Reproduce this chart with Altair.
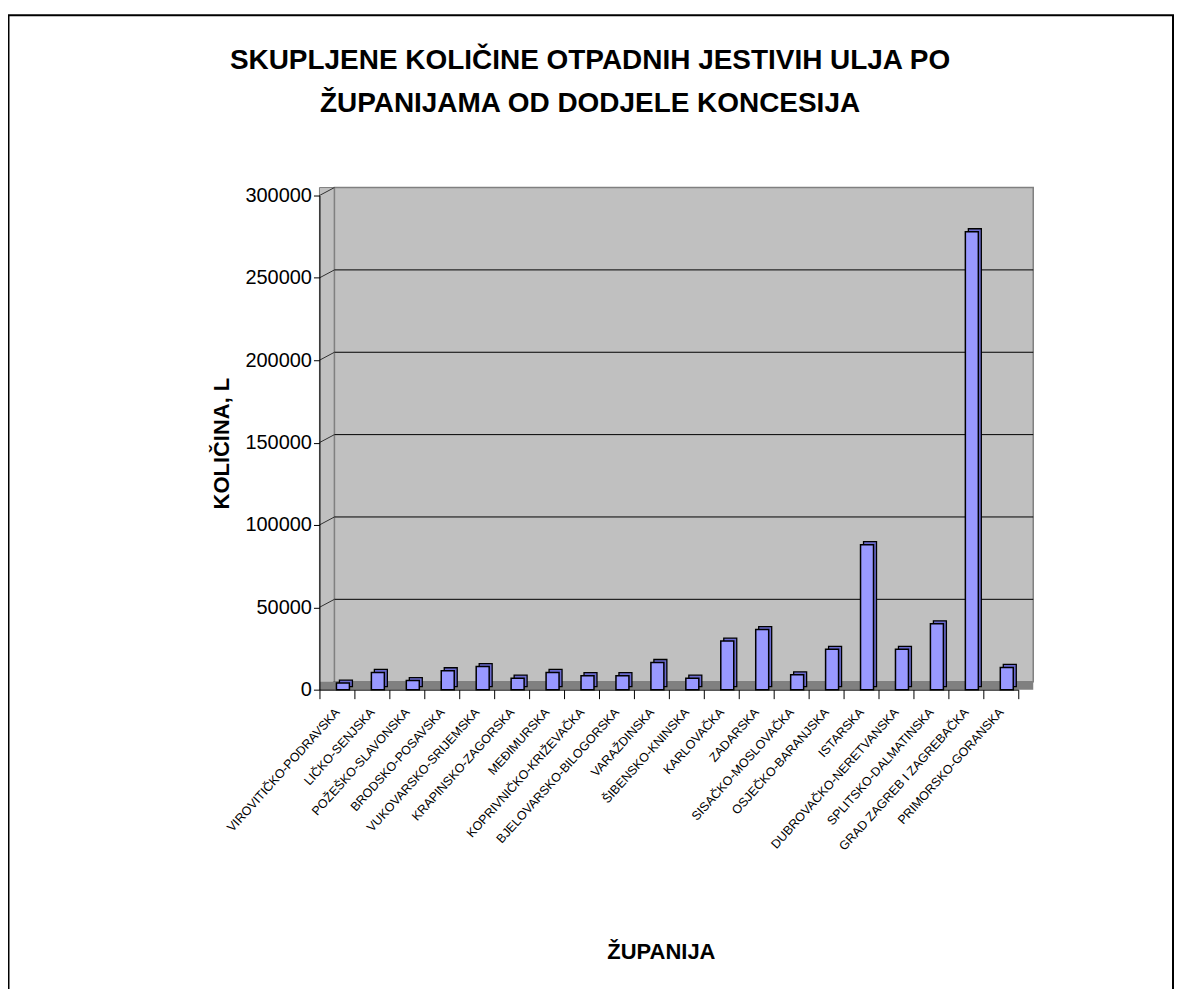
import altair as alt
import pandas as pd

counties = [
    "VIROVITIČKO-PODRAVSKA", "LIČKO-SENJSKA", "POŽEŠKO-SLAVONSKA", "BRODSKO-POSAVSKA",
    "VUKOVARSKO-SRIJEMSKA", "KRAPINSKO-ZAGORSKA", "MEĐIMURSKA", "KOPRIVNIČKO-KRIŽEVAČKA",
    "BJELOVARSKO-BILOGORSKA", "VARAŽDINSKA", "ŠIBENSKO-KNINSKA", "KARLOVAČKA", "ZADARSKA",
    "SISAČKO-MOSLOVAČKA", "OSJEČKO-BARANJSKA", "ISTARSKA", "DUBROVAČKO-NERETVANSKA",
    "SPLITSKO-DALMATINSKA", "GRAD ZAGREB I ZAGREBAČKA", "PRIMORSKO-GORANSKA",
]
values = [4000, 10500, 5500, 11500, 14000, 7000, 10500, 8500, 8500, 16500,
          7000, 29500, 36500, 9000, 24500, 88000, 24500, 40000, 278000, 13500]
y_ticks = [0, 50000, 100000, 150000, 200000, 250000, 300000]
grid_ticks = [50000, 100000, 150000, 200000, 250000]

title_lines = ["SKUPLJENE KOLIČINE OTPADNIH JESTIVIH ULJA PO", "ŽUPANIJAMA OD DODJELE KONCESIJA"]
x_title = "ŽUPANIJA"
y_title = "KOLIČINA, L"

FONT = "Liberation Sans"
W, H = 700, 495
DX, DY = 15, 8

df = pd.DataFrame({"county": counties, "value": values})
tick_df = pd.DataFrame({"value": y_ticks})
grid_df = pd.DataFrame({"value": grid_ticks})
one = alt.Data(values=[{"k": 1}])

yscale = alt.Scale(domain=[0, 300000], nice=False, zero=True)
xscale = alt.Scale(domain=counties, paddingInner=0, paddingOuter=0)

x_axis = alt.Axis(title=x_title, labelAngle=-48, labelAlign="right", labelBaseline="middle",
                  labelFontSize=12.5, labelFont=FONT, labelColor="black", labelLimit=400,
                  labelOverlap=False, labelPadding=11, tickBand="extent", tickSize=9,
                  tickColor="black", domainColor="black", titleX=342, titleY=262,
                  titleFontSize=22, titleFont=FONT, titleFontWeight="bold",
                  titleBaseline="middle", titleColor="black", zindex=1)
y_axis = alt.Axis(title=y_title, values=y_ticks, format="d", grid=False,
                  labelFontSize=20, labelFont=FONT, labelColor="black", labelPadding=2,
                  tickSize=6, tickColor="black", domainColor="black",
                  titleX=-98, titleY=248, titleAngle=270, titleBaseline="middle",
                  titleFontSize=22, titleFont=FONT, titleFontWeight="bold",
                  titleColor="black", zindex=1)

def xenc():
    return alt.X("county:N", sort=counties, scale=xscale, axis=x_axis)

def yenc():
    return alt.Y("value:Q", scale=yscale, axis=y_axis)

border = alt.Chart(one).mark_rect(fill="white", stroke="black", strokeWidth=2).encode(
    x=alt.value(-311.5), x2=alt.value(855), y=alt.value(-180.5), y2=alt.value(H + 400)
)
left_wall = alt.Chart(one).mark_rect(fill="#C0C0C0", stroke="#808080", strokeWidth=1).encode(
    x=alt.value(0), x2=alt.value(DX), y=alt.value(-DY), y2=alt.value(H)
)
back_wall = alt.Chart(one).mark_rect(fill="#C0C0C0", stroke="#808080", strokeWidth=1.5).encode(
    x=alt.value(DX), x2=alt.value(W + DX), y=alt.value(-DY), y2=alt.value(H - DY)
)
grid = alt.Chart(grid_df).mark_rule(color="black", strokeWidth=1, yOffset=-DY).encode(
    x=alt.value(DX), x2=alt.value(W + DX), y=yenc(),
)
conn = alt.Chart(tick_df).mark_rule(color="#303030", strokeWidth=1, y2Offset=-DY).encode(
    x=alt.value(0), x2=alt.value(DX), y=yenc(), y2=alt.Y2("value:Q"),
)
floor = alt.Chart(one).mark_rect(fill="#808080").encode(
    x=alt.value(0), x2=alt.value(W + DX), y=alt.value(H - DY), y2=alt.value(H)
)
bars_back = alt.Chart(df).mark_bar(
    fill="#6B6BCF", stroke="black", strokeWidth=1.3, size=13, xOffset=9, yOffset=-3
).encode(x=xenc(), y=yenc())
bars_front = alt.Chart(df).mark_bar(
    fill="#9999FF", stroke="black", strokeWidth=1.5, size=13, xOffset=6
).encode(x=xenc(), y=yenc())

chart = alt.layer(border, left_wall, back_wall, grid, conn, floor, bars_back, bars_front).properties(
    width=W, height=H,
    title=alt.TitleParams(text=title_lines, fontSize=28, font=FONT, fontWeight="bold",
                          anchor="middle", dx=-79, offset=-104, lineHeight=43, color="black"),
    padding={"left": 312, "top": 187, "right": 157, "bottom": 299},
    autosize=alt.AutoSizeParams(type="none"),
).configure_view(stroke=None).configure(font=FONT, background="white")

chart.save("out.html", embed_options={"renderer": "svg", "actions": False})
